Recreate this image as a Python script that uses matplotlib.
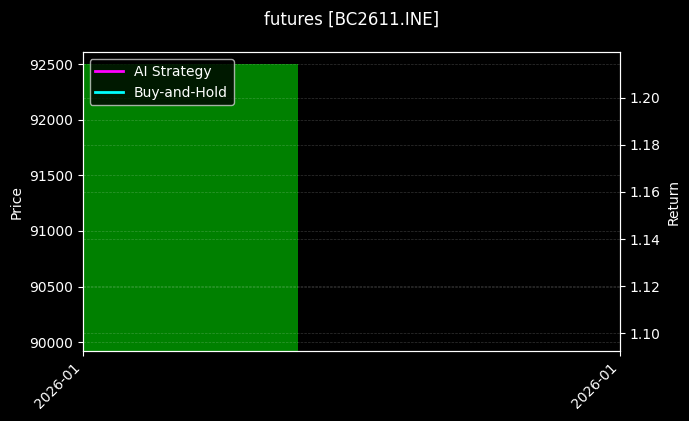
import numpy as np
import matplotlib
matplotlib.use('Agg')
import matplotlib.pyplot as plt
import matplotlib.dates as mdates
import datetime as dt

# data
dates = [dt.datetime(2026, 1, 5)]
price_open = [89900.0]
price_close = [92500.0]
ai_return = [1.156]
bh_return = [1.156]
x_start = dt.datetime(2026, 1, 5)
x_end = dt.datetime(2026, 1, 7)

plt.style.use('dark_background')
fig, ax = plt.subplots(figsize=(6.89, 4.21), dpi=100)
fig.subplots_adjust(left=0.12, right=0.9, top=0.876, bottom=0.166)

x = mdates.date2num(dates)
heights = np.array(price_close) - np.array(price_open)
ax.bar(x, heights, bottom=price_open, width=0.8, align='edge', color='green')
ax.set_ylim(89919, 92608)
ax.set_ylabel('Price')
ax.grid(True, linestyle='--', linewidth=0.5, alpha=0.2)

ax2 = ax.twinx()
ax2.plot(dates, ai_return, color='magenta', linewidth=2, label='AI Strategy')
ax2.plot(dates, bh_return, color='cyan', linewidth=2, label='Buy-and-Hold')
ax2.set_ylim(1.0925, 1.2192)
ax2.set_ylabel('Return')
ax2.grid(True, linestyle='--', linewidth=0.5, alpha=0.2)

ax.set_xlim(mdates.date2num(x_start), mdates.date2num(x_end))
ax.set_xticks([mdates.date2num(x_start), mdates.date2num(x_end)])
ax.xaxis.set_major_formatter(mdates.DateFormatter('%Y-%m'))
plt.setp(ax.get_xticklabels(), rotation=45, ha='right')

h1, l1 = ax2.get_legend_handles_labels()
ax2.legend(h1, l1, loc='upper left')

ax.set_title('futures [BC2611.INE]', pad=20)
fig.savefig('out.png', dpi=100)
